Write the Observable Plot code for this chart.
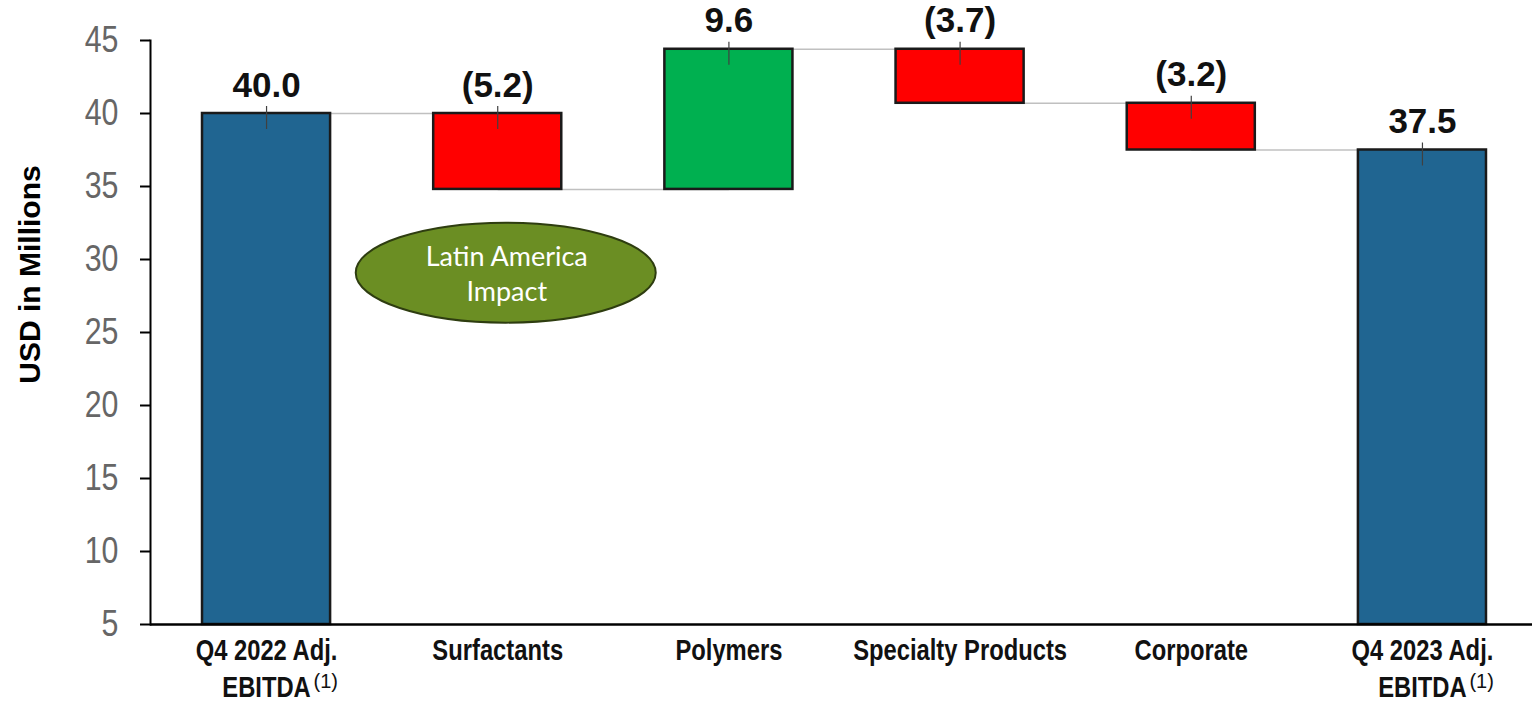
<!DOCTYPE html>
<html>
<head>
<meta charset="utf-8">
<script src="https://cdn.jsdelivr.net/npm/d3@7"></script>
<script src="https://cdn.jsdelivr.net/npm/@observablehq/plot@0.6"></script>
<style>
  html, body { margin: 0; padding: 0; background: #ffffff; }
  #chart { width: 1532px; height: 702px; }
</style>
</head>
<body>
<div id="chart"></div>
<script>
// ---- data ----
const categories = ["Q4 2022 Adj.\nEBITDA", "Surfactants", "Polymers", "Specialty Products", "Corporate", "Q4 2023 Adj.\nEBITDA"];
const changes = [40.0, -5.2, 9.6, -3.7, -3.2, 37.5];
const kinds = ["total", "decrease", "increase", "decrease", "decrease", "total"];
const valueLabels = ["40.0", "(5.2)", "9.6", "(3.7)", "(3.2)", "37.5"];
const footnotes = ["(1)", "", "", "", "", "(1)"];
const yTicks = [5, 10, 15, 20, 25, 30, 35, 40, 45];
const yDomain = [5, 45];
const yTitle = "USD in Millions";
const annotationText = "Latin America\nImpact";
const annotationAnchor = [{category: "Surfactants", value: 29.1}];

// ---- derived table ----
let running = 0;
const rows = categories.map((c, i) => {
  let lo, hi, end;
  if (kinds[i] === "total") {
    lo = yDomain[0]; hi = changes[i]; end = changes[i];
  } else {
    const start = running;
    end = running + changes[i];
    lo = Math.min(start, end); hi = Math.max(start, end);
  }
  running = end;
  return {category: c, kind: kinds[i], lo, hi, end, label: valueLabels[i], note: footnotes[i]};
});
const connectors = rows.slice(0, -1).map((r, i) => ({from: r.category, to: rows[i + 1].category, level: r.end}));

const colors = {total: "#206591", decrease: "#ff0000", increase: "#00b050"};

// ellipse symbol for the annotation bubble
const ellipseSymbol = {
  draw(ctx) {
    const rx = 150, ry = 50, k = 0.5523;
    ctx.moveTo(rx, 0);
    ctx.bezierCurveTo(rx, ry * k, rx * k, ry, 0, ry);
    ctx.bezierCurveTo(-rx * k, ry, -rx, ry * k, -rx, 0);
    ctx.bezierCurveTo(-rx, -ry * k, -rx * k, -ry, 0, -ry);
    ctx.bezierCurveTo(rx * k, -ry, rx, -ry * k, rx, 0);
    ctx.closePath();
  }
};

const sans = "'Liberation Sans', Arial, sans-serif";

const chart = Plot.plot({
  width: 1532,
  height: 702,
  marginLeft: 150,
  marginRight: 0,
  marginTop: 40,
  marginBottom: 78,
  style: {fontFamily: sans, background: "#ffffff", color: "#000"},
  x: {domain: categories, range: [150, 1538], paddingInner: 0.446, paddingOuter: 0.225, round: false, axis: null},
  y: {domain: yDomain, axis: null},
  marks: [
    // connectors
    Plot.link(connectors, {x1: "from", x2: "to", y1: "level", y2: "level", stroke: "#c0c0c0", strokeWidth: 1.5}),
    // bars
    Plot.rectY(rows, {x: "category", y1: "lo", y2: "hi", fill: d => colors[d.kind], stroke: "#1a1a1a", strokeWidth: 2.5}),
    // small tick marks at bar tops
    Plot.ruleX(rows, {x: "category", y1: "hi", y2: "hi", insetTop: -7, insetBottom: -16, stroke: "#404040", strokeWidth: 1.2}),
    // value labels
    Plot.text(rows, {ariaLabel: "value label", x: "category", y: "hi", text: "label", dy: -17, lineAnchor: "bottom", fontSize: 35, fontWeight: "bold", fill: "#111"}),
    // y axis
    Plot.axisY({ticks: yTicks, tickSize: 10, tickPadding: 22, fontSize: 37, fill: "#666666", stroke: "#000", strokeWidth: 2, tickFormat: d => String(d)}),
    Plot.frame({anchor: "left", stroke: "#000", strokeWidth: 2}),
    Plot.ruleY([yDomain[0]], {stroke: "#000", strokeWidth: 2.5}),
    // x axis labels
    Plot.axisX({tickSize: 0, tickPadding: 10, fontSize: 29, fontWeight: "bold", lineHeight: 1.26, fill: "#111"}),
    Plot.text(rows.filter(d => d.note), {ariaLabel: "footnote", x: "category", text: "note", frameAnchor: "bottom", dx: 47, dy: 63, textAnchor: "start", lineAnchor: "bottom", fontSize: 20, fill: "#111"}),
    // y title
    Plot.text([yTitle], {text: d => d, frameAnchor: "left", textAnchor: "middle", dx: -120, dy: -58, rotate: -90, fontSize: 30, fontWeight: "bold", fill: "#000"}),
    // annotation bubble
    Plot.dot(annotationAnchor, {x: "category", y: "value", dx: 8, symbol: ellipseSymbol, r: 10, fill: "#6b8e23", stroke: "#2e3d10", strokeWidth: 2}),
    Plot.text(annotationAnchor, {x: "category", y: "value", dx: 9, text: () => annotationText, fontSize: 27, lineHeight: 1.3, fill: "#ffffff", fontFamily: "Lato, 'Open Sans', sans-serif"})
  ]
});

// condense the Arial-Narrow-style texts horizontally
d3.select(chart)
  .selectAll('g[aria-label="y-axis tick label"] text, g[aria-label="x-axis tick label"] text, g[aria-label="value label"] text, g[aria-label="footnote"] text')
  .each(function() {
    const t = this.getAttribute("transform") || "";
    this.setAttribute("transform", (t + " scale(0.82,1)").trim());
  });

document.getElementById("chart").appendChild(chart);
</script>
</body>
</html>
